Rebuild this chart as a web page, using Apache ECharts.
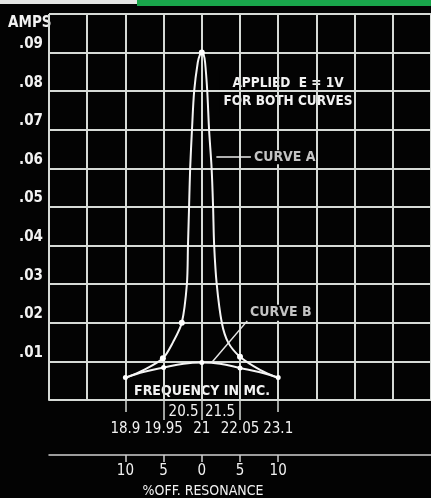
<!DOCTYPE html>
<html>
<head>
<meta charset="utf-8">
<script src="https://cdn.jsdelivr.net/npm/echarts@6/dist/echarts.min.js"></script>
<style>
  html, body { margin: 0; padding: 0; background: #030303; }
  #chart { width: 431px; height: 498px; }
</style>
</head>
<body>
<div id="chart"></div>
<script>
// Resonance curves: current (amps) against frequency (Mc) for two tuned circuits.
const freqA = [18.9, 19.41, 19.93, 20.21, 20.45, 20.59, 20.62, 20.65, 20.68, 20.73, 20.79, 20.89, 20.95, 21.0,
               21.05, 21.09, 21.15, 21.2, 21.27, 21.31, 21.34, 21.41, 21.55, 21.72, 22.05, 22.6, 23.1];
const ampsA = [0.0057, 0.0078, 0.0108, 0.0150, 0.0200, 0.0300, 0.0400, 0.0500, 0.0600, 0.0700, 0.0800, 0.0875, 0.0895, 0.0900,
               0.0895, 0.0875, 0.0800, 0.0700, 0.0600, 0.0500, 0.0400, 0.0300, 0.0200, 0.0150, 0.0112, 0.0078, 0.0057];
const freqB = [18.9, 19.42, 19.95, 20.5, 21.0, 21.5, 22.05, 22.6, 23.1];
const ampsB = [0.0058, 0.0073, 0.0084, 0.0094, 0.0097, 0.0094, 0.0083, 0.0072, 0.0058];

// Points drawn with a dot on each curve (indices into the arrays above)
const dotsA = [2, 4, 13, 24];
const dotsB = [0, 2, 4, 6, 8];

// Axis ticks and labels
const ampTicks = [0.01, 0.02, 0.03, 0.04, 0.05, 0.06, 0.07, 0.08, 0.09];
const ampTickLabels = ['.01', '.02', '.03', '.04', '.05', '.06', '.07', '.08', '.09'];
const freqTicksLower = [18.9, 19.95, 21, 22.05, 23.1];
const freqTicksUpper = [20.5, 21.5];
const freqLongTicks = [19.95, 21, 22.05];
const freqShortTicks = [18.9, 23.1];
const pctTicks = [-10, -5, 0, 5, 10];
const pctTickLabels = ['10', '5', '0', '5', '10'];

// Frequency range spans -20% .. +30% around the 21 Mc resonance
const F0 = 21;
const PCT_MIN = -20, PCT_MAX = 30;
const FREQ_MIN = F0 * (1 + PCT_MIN / 100);
const FREQ_MAX = F0 * (1 + PCT_MAX / 100);

const FONT = '"DejaVu Sans Condensed", "Liberation Sans Narrow", sans-serif';
const TXT = '#f2f2f2';
const GRID = '#d6dad6';

const chart = echarts.init(document.getElementById('chart'), null, { renderer: 'canvas' });

chart.setOption({
  backgroundColor: '#030303',
  animation: false,
  grid: { left: 49, right: 0, top: 14, bottom: 98, containLabel: false, outerBoundsMode: 'none' },
  xAxis: [
    { // grid lines, 5% steps
      type: 'value', min: PCT_MIN, max: PCT_MAX, interval: 5, position: 'bottom',
      axisLine: { show: true, onZero: false, lineStyle: { color: GRID, width: 2 } },
      axisTick: { show: false }, axisLabel: { show: false },
      splitLine: { show: true, lineStyle: { color: GRID, width: 2 } }
    },
    { // frequency scale used by the curves, lower label row
      type: 'value', min: FREQ_MIN, max: FREQ_MAX, position: 'bottom',
      axisLine: { show: false, onZero: false },
      axisTick: { show: true, customValues: freqLongTicks, length: 20, lineStyle: { color: GRID, width: 1.5 } },
      axisLabel: { show: true, customValues: freqTicksLower, margin: 22, hideOverlap: false,
        formatter: v => String(freqTicksLower[freqTicksLower.indexOf(v)]),
        color: TXT, fontFamily: FONT, fontSize: 15 },
      splitLine: { show: false }
    },
    { // frequency scale, upper label row
      type: 'value', min: FREQ_MIN, max: FREQ_MAX, position: 'bottom',
      axisLine: { show: false, onZero: false },
      axisTick: { show: true, customValues: freqShortTicks, length: 12, lineStyle: { color: GRID, width: 1.5 } },
      axisLabel: { show: true, customValues: freqTicksUpper, margin: 5, hideOverlap: false,
        formatter: v => String(freqTicksUpper[freqTicksUpper.indexOf(v)]),
        color: TXT, fontFamily: FONT, fontSize: 15 },
      splitLine: { show: false }
    },
    { // percent off resonance scale
      type: 'value', min: PCT_MIN, max: PCT_MAX, position: 'bottom', offset: 55,
      axisLine: { show: true, onZero: false, lineStyle: { color: '#cfcfcf', width: 1.5 } },
      axisTick: { show: true, customValues: pctTicks, length: 7, lineStyle: { color: '#cfcfcf', width: 1.5 } },
      axisLabel: { show: true, customValues: pctTicks, margin: 9, hideOverlap: false,
        formatter: v => pctTickLabels[pctTicks.indexOf(v)],
        color: TXT, fontFamily: FONT, fontSize: 15 },
      splitLine: { show: false },
      name: '%OFF. RESONANCE', nameLocation: 'middle', nameGap: 29,
      nameTextStyle: { color: TXT, fontFamily: FONT, fontSize: 14, padding: [0, 74, 0, 0] }
    }
  ],
  yAxis: [
    { // grid lines
      type: 'value', min: 0, max: 0.1, interval: 0.01, position: 'left',
      axisLine: { show: true, lineStyle: { color: GRID, width: 2 } },
      axisTick: { show: false }, axisLabel: { show: false },
      splitLine: { show: true, lineStyle: { color: GRID, width: 2 } }
    },
    { // amp ticks running out to the labels
      type: 'value', min: 0, max: 0.1, position: 'left',
      axisLine: { show: false },
      axisTick: { show: true, customValues: ampTicks, length: 39, lineStyle: { color: GRID, width: 2 } },
      axisLabel: { show: true, customValues: ampTicks, margin: 30, align: 'left', verticalAlign: 'bottom',
        padding: [0, 0, 1, 0], hideOverlap: false,
        formatter: v => ampTickLabels[ampTicks.indexOf(v)],
        color: TXT, fontFamily: FONT, fontSize: 15, fontWeight: 'bold' },
      splitLine: { show: false }
    }
  ],
  series: [
    {
      name: 'Curve B', type: 'line', xAxisIndex: 1, yAxisIndex: 0,
      data: freqB.map((f, i) => [f, ampsB[i]]),
      smooth: 0.4,
      symbol: 'circle', showSymbol: true,
      symbolSize: (v, p) => (dotsB.includes(p.dataIndex) ? 5 : 0),
      itemStyle: { color: '#ffffff' },
      lineStyle: { color: '#f4f4f4', width: 2 },
      emphasis: { disabled: true },
      markLine: {
        silent: true, symbol: ['none', 'none'],
        lineStyle: { color: '#e6e6e6', width: 1.5, type: 'solid' },
        label: { show: false },
        emphasis: { disabled: true },
        data: [[{ coord: [22.25, 0.0205] }, { coord: [21.28, 0.0098] }]]
      },
      markPoint: {
        silent: true, symbol: 'circle', symbolSize: 0,
        label: { show: true, position: 'right', distance: 0, formatter: 'CURVE B',
          color: '#c4c4c4', fontFamily: FONT, fontSize: 14, fontWeight: 'bold',
          backgroundColor: '#030303', padding: [1, 1] },
        emphasis: { disabled: true },
        data: [{ coord: [22.3, 0.0226] }]
      }
    },
    {
      name: 'Curve A', type: 'line', xAxisIndex: 1, yAxisIndex: 0,
      data: freqA.map((f, i) => [f, ampsA[i]]),
      smooth: 0.3,
      symbol: 'circle', showSymbol: true,
      symbolSize: (v, p) => (dotsA.includes(p.dataIndex) ? 6 : 0),
      itemStyle: { color: '#ffffff' },
      lineStyle: { color: '#f4f4f4', width: 2 },
      emphasis: { disabled: true },
      markLine: {
        silent: true, symbol: ['none', 'arrow'], symbolSize: [0, 8],
        lineStyle: { color: '#ececec', width: 1.5, type: 'solid' },
        label: { show: true, position: 'start', formatter: 'CURVE A', distance: 3,
          color: '#c4c4c4', fontFamily: FONT, fontSize: 14, fontWeight: 'bold', backgroundColor: '#030303' },
        emphasis: { disabled: true },
        data: [[{ coord: [22.35, 0.0629] }, { coord: [21.4, 0.0629] }]]
      }
    }
  ],
  graphic: [
    { type: 'rect', left: 0, top: 0, shape: { width: 137, height: 4 }, style: { fill: '#e4e6e4' }, silent: true },
    { type: 'rect', left: 137, top: 0, shape: { width: 294, height: 6 }, style: { fill: '#19a64b' }, silent: true },
    { type: 'text', left: 8, top: 16, silent: true,
      style: { text: 'AMPS', fill: TXT, font: 'bold 15px ' + FONT } },
    { type: 'text', x: 288, y: 71, silent: true,
      style: { text: 'APPLIED  E = 1V\nFOR BOTH CURVES', fill: TXT, font: 'bold 13.5px ' + FONT,
        align: 'center', lineHeight: 18, backgroundColor: '#030303', padding: [3, 4] } },
    { type: 'text', x: 202, y: 384, silent: true,
      style: { text: 'FREQUENCY IN MC.', fill: TXT, font: 'bold 14px ' + FONT,
        align: 'center', backgroundColor: '#030303', padding: [0, 2] } }
  ]
});
</script>
</body>
</html>
